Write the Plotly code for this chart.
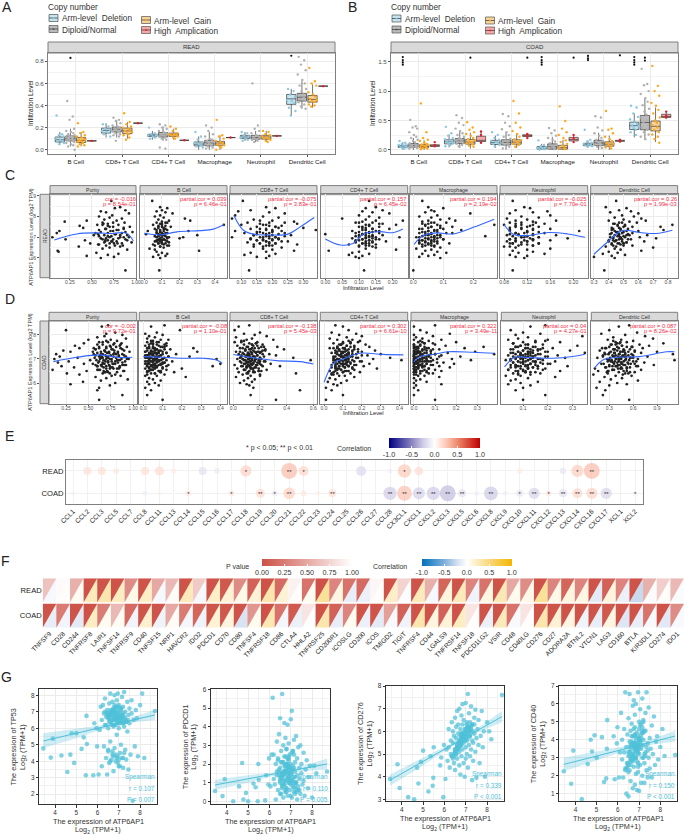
import plotly.graph_objects as go
from plotly.colors import sample_colorscale

W, H = 685, 836
FONT = "Liberation Sans"

# ---------- panel A / B ----------
CELLS = ["B Cell", "CD8+ T Cell", "CD4+ T Cell", "Macrophage", "Neutrophil", "Dendritic Cell"]
GROUPS = ["Arm-level  Deletion", "Diploid/Normal", "Arm-level  Gain", "High  Amplication"]
# [low, q1, median, q3, high] per group per cell
A_BOX = [
 [[.05,.07,.09,.115,.16],[.03,.08,.10,.125,.19],[.03,.065,.085,.11,.16],[.08,.08,.08,.08,.08]],
 [[.11,.15,.175,.195,.24],[.11,.16,.185,.205,.27],[.10,.145,.17,.195,.25],[.24,.24,.24,.24,.24]],
 [[.09,.12,.13,.14,.17],[.08,.115,.135,.155,.21],[.09,.12,.135,.15,.19],[.085,.085,.085,.085,.085]],
 [[.0,.035,.05,.07,.12],[.0,.035,.06,.085,.16],[.0,.04,.06,.075,.13],[.11,.11,.11,.11,.11]],
 [[.08,.10,.115,.13,.16],[.07,.095,.11,.13,.17],[.07,.095,.115,.13,.17],[.125,.125,.125,.125,.125]],
 [[.31,.41,.46,.50,.55],[.37,.44,.475,.51,.62],[.38,.43,.455,.49,.59],[.575,.575,.575,.575,.575]],
]
B_BOX = [
 [[.0,.04,.055,.075,.13],[.0,.04,.07,.105,.2],[.0,.035,.055,.085,.16],[.05,.055,.07,.085,.09]],
 [[.04,.10,.135,.17,.26],[.03,.105,.15,.19,.31],[.02,.095,.13,.175,.29],[.12,.14,.16,.23,.31]],
 [[.03,.09,.125,.16,.24],[.0,.08,.125,.17,.3],[.03,.095,.13,.17,.28],[.21,.225,.24,.255,.27]],
 [[.0,.01,.025,.055,.1],[.0,.01,.05,.10,.22],[.0,.01,.035,.075,.17],[.12,.15,.175,.21,.24]],
 [[.04,.07,.09,.11,.16],[.0,.07,.115,.16,.29],[.0,.06,.095,.135,.24],[.14,.145,.15,.16,.17]],
 [[.21,.345,.41,.47,.62],[.17,.34,.465,.585,.88],[.13,.32,.40,.49,.72],[.53,.55,.565,.605,.65]],
]
A_PTS = [
 [[.31,.14,.13,.12,.1,.09,.08,.07,.06,.05],[.44,.3,.27,.19,.17,.16,.15,.14,.13,.12,.12,.11,.1,.1,.09,.09,.08,.08,.07,.06,.05,.04,.03,.0],[.24,.16,.15,.13,.12,.11,.1,.09,.09,.08,.07,.07,.06,.05,.04,.03],[.08]],
 [[.23,.21,.19,.18,.17,.16,.15,.14,.12],[.29,.27,.26,.24,.22,.21,.2,.19,.19,.18,.17,.17,.16,.15,.14,.13,.12,.08],[.33,.25,.23,.21,.2,.19,.18,.17,.16,.15,.14,.13,.11,.09],[.24]],
 [[.2,.15,.14,.13,.13,.12,.11,.1],[.23,.22,.2,.19,.17,.16,.15,.14,.14,.13,.13,.12,.11,.1,.09,.02,.01],[.21,.19,.17,.15,.14,.14,.13,.13,.12,.11,.1],[.085]],
 [[.16,.12,.09,.07,.06,.05,.04,.03,.02],[.22,.2,.17,.14,.12,.1,.09,.08,.07,.06,.05,.05,.04,.03,.02,.01],[.27,.13,.12,.1,.08,.07,.06,.05,.04,.03,.02,.0],[.11]],
 [[.16,.15,.13,.12,.11,.1,.09,.08],[.6,.22,.19,.17,.15,.13,.12,.11,.11,.1,.09,.09,.08,.07],[.17,.16,.14,.13,.12,.11,.1,.1,.09,.08,.07],[.125]],
 [[.55,.53,.5,.48,.45,.44,.42,.38,.35,.31],[.84,.81,.77,.72,.68,.63,.6,.58,.55,.53,.5,.49,.47,.46,.44,.43,.41,.39,.37],[.74,.62,.6,.58,.52,.5,.48,.46,.45,.44,.43,.41,.4,.39],[.575]],
]
B_PTS = [
 [[.15,.12,.1,.09,.08,.07,.06,.05,.04,.03,.02],[.51,.4,.38,.36,.3,.25,.22,.2,.17,.15,.13,.11,.09,.08,.07,.06,.05,.04,.03,.02],[.79,.3,.2,.17,.15,.12,.1,.09,.08,.07,.06,.05,.04,.03,.02,.01],[.13,.08,.06]],
 [[.39,.28,.24,.2,.18,.16,.14,.13,.12,.1,.08,.06],[.59,.54,.46,.42,.36,.32,.28,.25,.22,.2,.18,.16,.15,.13,.12,.1,.08,.06],[.47,.38,.34,.3,.27,.24,.2,.18,.16,.14,.13,.11,.09,.07,.05],[.31,.25,.12]],
 [[.3,.25,.2,.17,.15,.13,.12,.1,.08,.06],[.61,.57,.46,.4,.35,.3,.25,.22,.19,.16,.14,.12,.1,.08,.05,.02],[.83,.62,.46,.38,.32,.27,.22,.18,.16,.14,.12,.1,.08,.05],[.27,.24,.2]],
 [[.16,.08,.06,.04,.03,.02,.01,.005],[.37,.33,.28,.24,.2,.17,.14,.11,.09,.07,.05,.03,.01],[.74,.49,.36,.3,.25,.2,.16,.13,.1,.07,.05,.03,.01],[.25,.2,.13]],
 [[.34,.17,.14,.12,.1,.09,.08,.07,.06,.05],[.57,.55,.38,.33,.28,.24,.2,.17,.15,.13,.11,.09,.07,.05,.03],[.66,.36,.34,.28,.22,.18,.15,.12,.1,.08,.06,.04,.02],[.17,.15,.14]],
 [[.75,.72,.62,.56,.52,.48,.44,.42,.4,.37,.34,.3,.25],[1.38,1.12,1.1,1.0,.95,.88,.82,.76,.7,.65,.6,.55,.5,.46,.42,.38,.34,.3,.26,.22,.18],[1.43,1.09,1.0,.92,.8,.75,.68,.62,.55,.5,.46,.42,.38,.34,.3,.26,.22,.18,.12],[.65,.58,.55]],
]
JIT = [-.07,.05,-.02,.08,-.09,.01,.06,-.05,.09,-.01,.03,-.08,.04,-.03,.07]
# black significance marks: (cell, group, y)
A_MARKS = [(0,1,.83),(5,0,.85)]
B_MARKS = [(0,0,1.58),(0,0,1.53),(0,0,1.49),(0,0,1.45),(1,2,1.57),(2,3,1.57),(3,0,1.58),(3,0,1.53),(3,0,1.49),(3,0,1.45),
           (3,3,1.57),(4,0,1.6),(4,0,1.56),(4,0,1.53),(4,3,1.61),(5,0,1.58),(5,0,1.53),(5,0,1.49),(5,0,1.45),(5,1,1.57),(5,1,1.52)]

# ---------- panel C ----------
C_TITLES = ["Purity", "B Cell", "CD8+ T Cell", "CD4+ T Cell", "Macrophage", "Neutrophil", "Dendritic Cell"]
C_COR = ["cor = -0.016","partial.cor = 0.039","partial.cor = -0.075","partial.cor = 0.157","partial.cor = 0.194","partial.cor = -0.025","partial.cor = 0.26"]
C_P = ["p = 8.54e-01","p = 6.46e-01","p = 3.83e-01","p = 6.45e-02","p = 2.19e-02","p = 7.70e-01","p = 1.99e-03"]
C_Y = [8.75,8.45,8.4,8.3,8.25,8.2,8.15,8.05,8.0,7.95,7.9,7.85,7.8,7.8,7.75,7.7,7.7,7.65,7.6,7.6,7.55,7.5,7.5,7.45,7.4,7.4,7.35,7.3,7.3,7.25,7.2,7.2,7.15,7.1,7.1,7.05,7.0,7.0,6.95,6.9,6.9,6.85,6.8,6.8,6.75,6.7,6.7,6.65,6.6,6.55,6.5,6.45,6.4,6.35,6.3,6.25,6.2,6.15,6.1,6.05,6.0,5.4]
C_X = [
 [.72,.82,.76,.88,.60,.66,.92,.73,.58,.70,.84,.64,.44,.78,.19,.62,.87,.68,.56,.80,.36,.74,.93,.40,.65,.86,.58,.13,.71,.96,.10,.54,.77,.90,.52,.68,.05,.82,.60,.88,.20,.42,.73,.65,.95,.48,.79,.57,.85,.35,.70,.62,.90,.11,.12,.55,.80,.68,.44,.75,.60,.88],
 [.045,.09,.13,.10,.07,.12,.16,.09,.06,.11,.23,.08,.14,.26,.10,.07,.13,.09,.05,.45,.12,.10,.15,.08,.11,.06,.13,.02,.25,.09,.12,.07,.01,.30,.10,.08,.22,.14,.20,.09,.11,.07,.13,.06,.10,.12,.08,.05,.14,.09,.11,.03,.06,.31,.07,.10,.13,.08,.12,.05,.09,.085],
 [.105,.18,.21,.13,.09,.19,.24,.08,.17,.22,.07,.14,.20,.16,.27,.12,.19,.28,.10,.17,.23,.15,.21,.30,.13,.18,.34,.08,.20,.16,.11,.24,.18,.14,.26,.19,.07,.17,.22,.13,.20,.15,.25,.18,.12,.21,.16,.28,.19,.14,.23,.17,.20,.27,.18,.13,.21,.11,.19,.15,.18,.125],
 [.13,.15,.12,.17,.11,.14,.19,.10,.13,.16,.05,.12,.15,.23,.11,.14,.09,.17,.12,.21,.13,.10,.16,.12,.14,.19,.11,.08,.16,.13,.09,.12,.0,.17,.10,.14,.22,.12,.08,.15,.11,.13,.18,.09,.14,.11,.12,.07,.13,.10,.15,.12,.21,.01,.10,.08,.13,.07,.11,.09,.10,.115],
 [.03,.05,.10,.06,.07,.04,.19,.08,.02,.06,.12,.09,.05,.14,.03,.07,.11,.05,.08,.27,.04,.13,.06,.09,.02,.10,.16,.05,.07,.03,.11,.13,.06,.08,.04,.24,.01,.09,.05,.07,.10,.03,.06,.08,.04,.02,.12,.05,.07,.03,.09,.01,.06,.04,.08,.11,.03,.07,.05,.02,.09,.0],
 [.095,.115,.125,.10,.155,.13,.09,.16,.11,.14,.085,.12,.10,.17,.13,.09,.11,.15,.08,.13,.10,.12,.14,.09,.16,.11,.13,.21,.09,.12,.15,.10,.13,.17,.085,.12,.14,.11,.19,.09,.13,.16,.10,.12,.235,.09,.14,.11,.13,.08,.10,.16,.12,.095,.13,.105,.15,.09,.12,.10,.115,.095],
 [.45,.38,.52,.47,.55,.41,.60,.49,.57,.44,.62,.50,.40,.65,.54,.47,.59,.43,.83,.51,.46,.75,.56,.42,.53,.48,.77,.44,.60,.50,.46,.56,.41,.66,.52,.47,.61,.43,.72,.49,.55,.45,.64,.40,.52,.47,.50,.42,.56,.38,.70,.44,.48,.62,.40,.46,.36,.51,.42,.30,.44,.37],
]
C_Y2 = [7.6,7.5,7.4,7.35,7.3,7.25,7.2,7.2,7.15,7.1,7.1,7.05,7.05,7.0,7.0,6.95,6.95,6.9,6.9,6.85,6.85,6.8,6.8,6.75,6.7,6.7,6.65,6.6,6.6,6.55,7.45,7.55,7.65,7.7,7.35,7.25,7.15,7.0,6.85,6.7]
C_X2 = [
 [.62,.70,.66,.78,.74,.60,.84,.68,.76,.64,.82,.72,.58,.86,.70,.66,.80,.62,.74,.90,.68,.72,.78,.64,.84,.70,.58,.76,.66,.82,.86,.68,.63,.74,.80,.88,.57,.92,.65,.75],
 [.10,.08,.12,.09,.11,.07,.10,.13,.08,.11,.09,.06,.12,.10,.07,.13,.09,.11,.08,.10,.12,.07,.09,.14,.10,.08,.11,.06,.13,.09,.11,.08,.10,.12,.07,.09,.11,.13,.08,.10],
 [.18,.21,.16,.20,.23,.15,.19,.17,.22,.14,.20,.18,.24,.16,.21,.19,.13,.22,.17,.20,.15,.18,.23,.19,.16,.21,.14,.18,.20,.17,.22,.19,.16,.24,.18,.20,.15,.21,.17,.19],
 [.13,.11,.14,.12,.15,.10,.13,.16,.11,.14,.12,.09,.13,.15,.10,.12,.14,.11,.16,.13,.10,.12,.14,.09,.11,.13,.15,.10,.12,.14,.11,.13,.16,.10,.12,.14,.11,.13,.09,.12],
 [.04,.06,.03,.07,.05,.08,.02,.06,.04,.09,.05,.03,.07,.06,.02,.08,.04,.05,.10,.03,.06,.07,.04,.02,.05,.08,.03,.06,.04,.07,.05,.09,.03,.06,.08,.04,.05,.07,.02,.06],
 [.11,.10,.13,.09,.12,.14,.10,.115,.09,.13,.105,.12,.095,.14,.11,.10,.125,.09,.13,.115,.10,.12,.085,.11,.14,.095,.12,.105,.13,.09,.11,.125,.10,.135,.09,.12,.105,.115,.13,.095],
 [.46,.50,.43,.48,.52,.45,.42,.49,.47,.54,.44,.50,.46,.41,.51,.48,.43,.47,.53,.45,.40,.49,.44,.52,.46,.42,.48,.50,.43,.45,.47,.51,.44,.49,.42,.46,.53,.48,.43,.50],
]
C_LINE_X = [[.072,.326,.55,.74,.856,.91,.97],[0,.09,.185,.317,.39,.45],[.076,.106,.139,.19,.25,.29,.335],[0,.044,.082,.113,.162,.2,.23],[.003,.033,.077,.133,.2,.27],[.08,.096,.12,.157,.19,.22],[.3,.39,.49,.61,.72,.83]]
C_LINE_Y = [[6.87,7.16,7.21,7.18,7.23,7.15,6.82],[7.19,7.11,7.26,7.32,7.39,7.6],[8.05,7.35,7.15,7.11,7.15,7.5,7.95],[6.92,6.63,6.7,7.16,7.27,7.22,7.4],[6.66,7.08,7.21,7.16,7.48,7.87],[7.6,7.15,7.08,7.23,7.16,7.0],[6.18,6.76,7.32,7.23,7.18,7.34]]
C_TICKS = [[.25,.5,.75,1],[0,.1,.2,.3,.4],[.1,.15,.2,.25,.3],[0,.05,.1,.15,.2],[0,.1,.2],[.08,.12,.16,.2],[.3,.4,.5,.6,.7,.8]]
C_TICKTEXT = [["0.25","0.50","0.75","1.00"],["0.0","0.1","0.2","0.3","0.4"],["0.10","0.15","0.20","0.25","0.30"],["0.00","0.05","0.10","0.15","0.20"],["0.0","0.1","0.2"],["0.08","0.12","0.16","0.20"],["0.3","0.4","0.5","0.6","0.7","0.8"]]

# ---------- panel D ----------
D_COR = ["cor = -0.002","partial.cor = -0.08","partial.cor = -0.138","partial.cor = 0.302","partial.cor = 0.322","partial.cor = 0.04","partial.cor = 0.087"]
D_P = ["p = 9.72e-01","p = 1.10e-01","p = 5.45e-03","p = 6.61e-10","p = 3.49e-11","p = 4.27e-01","p = 8.26e-02"]
D_Y = [8.4,8.35,8.2,8.1,8.05,8.0,7.95,7.9,7.85,7.8,7.8,7.75,7.7,7.7,7.65,7.6,7.6,7.55,7.55,7.5,7.5,7.45,7.45,7.4,7.4,7.35,7.35,7.3,7.3,7.3,7.25,7.25,7.2,7.2,7.2,7.15,7.15,7.1,7.1,7.1,7.05,7.05,7.0,7.0,7.0,6.95,6.95,6.9,6.9,6.9,6.85,6.85,6.8,6.8,6.8,6.75,6.75,6.7,6.7,6.7,6.65,6.65,6.6,6.6,6.55,6.55,6.5,6.5,6.45,6.45,6.4,6.4,6.35,6.3,6.3,6.25,6.2,6.15,6.1,6.05,6.0,5.95,5.9,5.8,5.7,5.5,5.3]
D_X = [
 [.72,.65,.25,.80,.70,.88,.68,.60,.92,.75,.50,.82,.66,.72,.45,.78,.60,.85,.35,.70,.93,.62,.40,.76,.88,.22,.68,.55,.96,.30,.73,.83,.14,.64,.78,.58,.90,.18,.70,.84,.38,.66,.12,.76,.95,.52,.82,.28,.62,.72,.88,.16,.68,.45,.80,.58,.92,.20,.74,.65,.85,.34,.70,.78,.10,.60,.90,.48,.72,.82,.26,.66,.40,.76,.86,.58,.70,.94,.64,.44,.80,.30,.74,.62,.60,.88,.62],
 [.11,.04,.19,.07,.01,.10,.03,.06,.02,.09,.13,.05,.08,.02,.04,.11,.07,.01,.12,.05,.09,.26,.03,.07,.14,.02,.06,.10,.04,.28,.08,.12,.03,.17,.05,.01,.09,.07,.13,.24,.04,.02,.10,.06,.38,.03,.08,.15,.05,.01,.11,.07,.40,.03,.09,.06,.13,.02,.36,.04,.10,.07,.20,.01,.05,.12,.03,.08,.16,.02,.06,.04,.11,.01,.07,.22,.03,.05,.09,.02,.06,.03,.08,.01,.04,.02,.10],
 [.12,.04,.01,.20,.08,.16,.25,.02,.14,.10,.30,.06,.18,.01,.12,.22,.08,.15,.03,.33,.11,.19,.05,.13,.38,.24,.09,.16,.02,.21,.07,.14,.27,.11,.04,.18,.32,.10,.15,.06,.45,.20,.12,.03,.17,.09,.58,.23,.13,.05,.19,.11,.28,.08,.15,.01,.21,.12,.35,.06,.17,.10,.14,.03,.25,.08,.19,.12,.04,.16,.10,.47,.07,.13,.20,.02,.11,.16,.08,.14,.05,.10,.12,.15,.50,.13,.32],
 [.06,.1,.13,.04,.17,.08,.2,.12,.03,.15,.07,.19,.1,.14,.05,.22,.09,.12,.16,.07,.24,.11,.03,.18,.13,.08,.27,.15,.1,.2,.06,.13,.3,.17,.09,.12,.23,.05,.15,.1,.35,.18,.07,.13,.26,.11,.41,.16,.08,.2,.12,.06,.14,.24,.1,.17,.04,.13,.21,.08,.15,.11,.28,.06,.16,.09,.13,.03,.19,.1,.07,.14,.05,.11,.08,.16,.03,.06,.12,.02,.09,.05,.07,.01,.04,.1,.01],
 [.1,.0,.03,.06,.17,.0,.09,.01,.04,.13,.0,.07,.02,.2,.05,.0,.1,.15,.03,.33,.0,.06,.24,.01,.12,.04,.08,.0,.29,.02,.16,.06,.0,.1,.38,.03,.13,.0,.07,.22,.01,.05,.18,.0,.11,.02,.27,.08,.0,.04,.14,.01,.06,.19,.0,.09,.03,.12,.0,.05,.02,.17,.07,.0,.1,.01,.04,.13,.0,.06,.03,.09,.0,.02,.05,.12,.0,.03,.01,.06,.0,.13,.01,.0,.02,.0,.1],
 [.19,.13,.05,.1,.17,.07,.34,.12,.08,.2,.04,.15,.1,.25,.06,.18,.12,.32,.09,.14,.07,.22,.11,.05,.16,.29,.1,.13,.08,.19,.35,.06,.12,.16,.09,.24,.04,.14,.11,.2,.07,.27,.13,.09,.17,.03,.12,.08,.23,.15,.1,.06,.18,.13,.21,.05,.11,.16,.09,.28,.14,.07,.12,.19,.04,.1,.25,.08,.15,.11,.06,.17,.13,.03,.09,.23,.12,.07,.05,.16,.09,.04,.13,.1,.07,.19,.1],
 [.55,.42,.3,.65,.2,.5,.75,.35,.85,.45,.28,.6,.38,.52,.98,.68,.33,.46,.8,.4,.58,.25,.72,.48,.36,.62,.18,.44,.9,.54,.3,.7,.42,1.1,.5,.22,.6,.35,.78,.46,.15,.56,.38,.66,.28,.5,1.12,.42,.32,.6,.74,.45,.2,.54,.36,.86,.48,.3,.64,.4,.25,.56,.12,.44,.7,.34,.52,.16,.62,.42,.28,.5,.1,.38,.58,.24,.46,.32,.66,.18,.4,.52,.3,.14,.25,.22,.55],
]
D_Y2 = [7.6,7.55,7.5,7.5,7.45,7.45,7.4,7.4,7.35,7.35,7.3,7.3,7.3,7.25,7.25,7.25,7.2,7.2,7.2,7.15,7.15,7.15,7.1,7.1,7.1,7.1,7.05,7.05,7.05,7.0,7.0,7.0,7.0,6.95,6.95,6.95,6.9,6.9,6.9,6.9,6.85,6.85,6.85,6.8,6.8,6.8,6.75,6.75,6.75,6.7,6.7,6.7,6.65,6.65,6.6,6.6,6.55,6.5,6.5,6.45,7.65,7.7,7.6,7.5,7.4,7.3,7.2,7.1,7.0,6.9,6.8,6.7,6.6,6.5,6.4,7.75,7.65,7.45,7.35,7.15,7.05,6.95,6.85,6.75,6.65,6.55,6.45,6.35,7.25,7.05]
D_X2 = [
 [.66,.74,.81,.62,.70,.86,.58,.77,.68,.90,.64,.73,.83,.60,.71,.79,.66,.88,.56,.75,.69,.84,.62,.72,.92,.78,.65,.57,.81,.70,.87,.63,.74,.67,.85,.59,.76,.80,.69,.91,.61,.72,.83,.66,.78,.55,.88,.64,.73,.70,.85,.60,.77,.67,.82,.74,.63,.89,.71,.68,.79,.62,.86,.75,.58,.69,.81,.65,.93,.72,.77,.60,.84,.67,.74,.70,.87,.56,.79,.63,.72,.83,.66,.90,.75,.61,.69,.80,.73,.64],
 [.05,.08,.03,.1,.06,.02,.07,.11,.04,.09,.05,.01,.08,.12,.03,.06,.1,.04,.07,.02,.09,.05,.13,.03,.08,.06,.11,.01,.04,.07,.1,.05,.03,.09,.06,.12,.02,.08,.04,.07,.11,.05,.03,.1,.06,.01,.09,.04,.08,.02,.07,.12,.05,.03,.1,.06,.04,.08,.02,.09,.05,.07,.03,.11,.06,.01,.04,.08,.1,.05,.02,.07,.03,.09,.06,.04,.12,.05,.08,.02,.07,.03,.1,.05,.06,.04,.09,.02,.07,.03],
 [.14,.18,.1,.21,.07,.16,.12,.24,.09,.15,.19,.05,.13,.2,.11,.17,.08,.22,.14,.1,.18,.06,.15,.12,.23,.09,.16,.2,.13,.07,.17,.11,.21,.14,.08,.19,.12,.16,.1,.24,.15,.06,.18,.13,.09,.2,.11,.17,.14,.07,.22,.12,.16,.1,.19,.13,.08,.15,.21,.11,.17,.06,.14,.23,.09,.18,.12,.16,.07,.2,.13,.1,.15,.19,.11,.08,.17,.14,.22,.12,.05,.16,.1,.18,.13,.09,.15,.2,.11,.14],
 [.09,.12,.07,.14,.05,.1,.16,.08,.12,.06,.11,.18,.09,.13,.04,.1,.15,.07,.12,.08,.2,.11,.06,.14,.09,.13,.05,.1,.17,.08,.12,.07,.11,.15,.06,.09,.13,.1,.19,.08,.12,.05,.14,.07,.11,.09,.16,.06,.12,.1,.08,.13,.04,.11,.15,.07,.09,.12,.06,.1,.14,.18,.08,.16,.11,.07,.13,.09,.05,.12,.1,.06,.08,.11,.04,.13,.1,.07,.15,.09,.12,.05,.08,.1,.06,.07,.05,.04,.13,.11],
 [.03,.0,.05,.01,.07,.02,.04,.09,.0,.06,.01,.03,.08,.0,.05,.02,.1,.04,.01,.07,.0,.03,.06,.02,.12,.0,.05,.01,.08,.03,.0,.04,.06,.02,.09,.0,.01,.05,.03,.07,.0,.02,.11,.04,.01,.06,.0,.03,.08,.02,.05,.0,.01,.04,.07,.02,.0,.03,.06,.01,.09,.04,.0,.02,.05,.01,.08,.0,.03,.06,.02,.04,.0,.01,.07,.03,.05,.0,.02,.04,.01,.06,.0,.03,.02,.05,.0,.01,.03,.04],
 [.12,.09,.15,.07,.11,.18,.06,.13,.1,.16,.08,.12,.2,.09,.14,.05,.11,.17,.07,.13,.1,.15,.06,.12,.19,.08,.14,.11,.09,.16,.07,.13,.1,.18,.05,.12,.15,.08,.11,.14,.06,.17,.09,.13,.1,.2,.07,.12,.15,.08,.11,.16,.05,.14,.09,.12,.18,.07,.1,.13,.06,.15,.11,.08,.17,.12,.09,.14,.05,.1,.13,.07,.16,.11,.08,.19,.06,.12,.14,.09,.1,.05,.15,.07,.12,.04,.11,.08,.13,.1],
 [.38,.46,.3,.52,.42,.26,.56,.35,.48,.4,.62,.32,.44,.24,.5,.37,.58,.43,.29,.47,.34,.54,.41,.22,.49,.36,.6,.44,.31,.51,.39,.27,.45,.55,.33,.42,.64,.37,.48,.28,.53,.4,.35,.46,.23,.57,.43,.3,.5,.38,.66,.34,.45,.26,.52,.41,.36,.48,.29,.56,.4,.44,.32,.59,.37,.47,.25,.51,.42,.33,.62,.39,.46,.28,.54,.35,.43,.21,.49,.38,.57,.3,.45,.41,.52,.34,.27,.47,.36,.44],
]
D_LINE_X = [[.109,.37,.63,.85,.99],[0,.1,.22,.31,.38,.41],[0,.175,.325,.5,.6],[0,.05,.1,.19,.31,.42],[0,.03,.1,.16,.28,.38],[.025,.067,.12,.217,.3,.35],[.12,.22,.39,.68,1.02,1.12]]
D_LINE_Y = [[6.89,7.07,7.17,7.06,7.07],[7.1,7.07,7.03,7.03,6.96,6.82],[7.19,7.03,6.93,6.89,6.79],[6.03,6.82,7.0,7.24,7.19,7.17],[6.89,7.1,7.2,7.3,7.28,7.24],[6.67,7.07,7.06,7.03,7.1,7.2],[6.65,6.96,7.07,7.1,7.3,7.3]]
D_TICKS = [[.25,.5,.75,1],[0,.1,.2,.3,.4],[0,.2,.4,.6],[0,.1,.2,.3,.4],[0,.1,.2,.3],[.1,.2,.3],[.3,.6,.9]]
D_TICKTEXT = [["0.25","0.50","0.75","1.00"],["0.0","0.1","0.2","0.3","0.4"],["0.0","0.2","0.4","0.6"],["0.0","0.1","0.2","0.3","0.4"],["0.0","0.1","0.2","0.3"],["0.1","0.2","0.3"],["0.3","0.6","0.9"]]

# ---------- panel E ----------
CHEMOKINES = ["CCL1","CCL2","CCL3","CCL5","CCL7","CCL8","CCL11","CCL13","CCL14","CCL15","CCL16","CCL17","CCL18","CCL19","CCL20","CCL21","CCL22","CCL23","CCL24","CCL25","CCL26","CCL27","CCL28","CX3CL1","CXCL1","CXCL2","CXCL3","CXCL5","CXCL6","CXCL8","CXCL9","CXCL10","CXCL11","CXCL12","CXCL13","CXCL14","CXCL16","CXCL17","XCL1","XCL2"]
E_READ = [-.05,.15,.15,.11,.05,.15,.17,.1,-.06,-.15,-.11,.02,.21,.02,.02,.3,.19,.03,.02,.05,-.19,0,-.09,.25,.16,.03,.04,.04,0,0,.04,.1,.03,0,-.12,.23,.3,0,0,0]
E_COAD = [-.08,0,0,0,0,-.09,.08,.02,.11,0,0,.11,.03,.17,-.11,.22,.11,.09,.15,.02,0,0,-.25,.28,-.23,-.25,-.3,-.15,-.09,-.26,-.09,-.13,-.21,.11,-.15,.19,.21,-.21,0,-.09]
E_READ_SIG = {12:"*",15:"**",16:"*",23:"*",35:"*",36:"**"}
E_COAD_SIG = {8:"*",11:"*",13:"**",14:"*",15:"**",18:"**",22:"**",23:"**",24:"**",25:"**",26:"**",27:"**",29:"**",31:"*",32:"**",33:"*",34:"**",35:"**",36:"**",37:"**",39:"*"}

# ---------- panel F ----------
CHECKPOINTS = ["TNFSF9","CD28","CD244","TNFRSF8","LAIR1","TNFSF14","TNFRSF9","CD40","TNFSF15","NRP1","HAVCR2","IDO2","PDCD1","CD70","CD80","TNFSF4","TNFRSF18","CD86","CTLA4","HHLA2","TNFRSF25","CD200R1","ICOSLG","CD200","ICOS","TMIGD2","TIGIT","TNFRSF4","CD44","LGALS9","TNFRSF14","TNFSF18","PDCD1LG2","VSIR","CD48","CD40LG","CD276","CD27","ADORA2A","BTNL2","VTCN1","LAG3","CD160","BTLA","KIR3DL1","CD274","IDO1"]
F_READ_P = [.65,.97,.55,.02,.02,.02,.35,.02,.5,.6,.02,.7,.02,.05,.35,.1,.01,.15,.92,.2,.01,.3,.2,.15,.95,.02,.75,.02,.55,.12,.02,.3,.2,.02,.5,.35,.02,.3,.12,.3,.02,.1,.3,.02,.55,.72,.6]
F_READ_C = [-.05,.02,.05,.25,.3,.22,.08,.2,-.05,.03,.25,-.05,.2,.15,.08,.15,.3,.15,.02,.05,.38,.1,-.12,-.1,.02,.2,-.02,.25,-.05,.12,.25,-.08,.1,.28,.06,.08,.38,.08,.12,.1,-.15,.12,-.1,-.25,-.03,.02,-.03]
F_COAD_P = [.02,.25,.02,.01,.25,.6,.15,.02,.03,.5,.25,.12,.02,.04,.02,.4,.01,.2,.06,.85,.01,.1,.3,.02,.02,.45,.1,.02,.02,.1,.02,.85,.02,.02,.2,.85,.02,.02,.02,.02,.02,.05,.02,.02,.2,.02,.35]
F_COAD_C = [-.12,-.07,-.15,.22,.05,.04,-.07,.18,-.08,.03,-.06,-.08,.15,.12,-.2,.05,.28,-.06,-.1,-.01,.3,-.12,.05,-.1,-.15,-.04,-.08,.3,.12,.14,.22,.01,-.1,.25,-.04,.01,.3,.15,.1,-.08,-.12,.1,-.18,-.12,-.04,-.16,-.04]

# ---------- panel G ----------
G_GENES = ["TP53", "PDCD1", "CD276", "CD40"]
G_STATS = [("r = 0.107","P = 0.007"),("r = 0.110","P = 0.005"),("r = 0.339","P < 0.001"),("r = 0.150","P < 0.001")]
GX = [8.7,8.2,8.1,3.45,3.8,3.9,4.3,4.58,4.72,4.78,4.9,5.0,5.25,5.35,5.45,5.48,5.5,5.8,5.85,5.95,5.98,6.05,6.1,6.15,6.2,6.2,6.25,6.3,6.3,6.35,6.35,6.4,6.4,6.45,6.45,6.5,6.5,6.5,6.55,6.55,6.55,6.6,6.6,6.6,6.65,6.65,6.65,6.7,6.7,6.7,6.7,6.75,6.75,6.75,6.8,6.8,6.8,6.8,6.85,6.85,6.85,6.9,6.9,6.9,6.9,6.95,6.95,6.95,7.0,7.0,7.0,7.0,7.05,7.05,7.05,7.1,7.1,7.1,7.15,7.15,7.15,7.2,7.2,7.2,7.25,7.25,7.3,7.3,7.3,7.35,7.35,7.4,7.4,7.45,7.45,7.5,7.5,7.55,7.6,7.6,7.65,7.7,7.75,7.8,7.85,7.9,8.0]
G_Y = [
 [7.05,4.2,8.1,4.78,4.22,5.37,4.35,3.35,4.4,5.7,3.9,5.7,4.75,5.45,3.15,6.75,5.05,3.15,6.3,6.0,4.9,3.2,5.9,7.3,3.7,6.5,7.4,4.9,6.9,6.2,7.8,4.2,6.7,3.2,7.1,6.0,6.6,4.6,7.5,6.4,3.9,6.8,8.1,5.2,6.3,7.0,4.1,6.5,7.6,6.9,4.4,6.1,7.2,3.4,6.6,8.0,6.7,4.8,7.3,6.2,4.0,6.9,7.7,5.6,6.4,7.0,4.3,8.1,6.6,6.0,3.7,7.4,6.8,4.5,6.3,7.1,5.0,6.7,7.9,4.2,6.5,6.9,3.6,7.3,6.1,8.2,4.7,6.6,7.0,6.4,4.1,7.6,5.8,6.8,3.5,7.2,6.3,4.4,6.9,7.7,1.6,6.5,4.9,7.1,6.6,4.3,7.4],
 [1.6,1.5,1.9,.55,.28,1.2,.0,.8,2.05,.1,.45,.0,.95,.75,.0,2.0,1.15,.05,1.4,.9,2.3,.8,2.5,5.55,2.5,1.2,.9,2.0,.1,1.6,3.2,.6,2.3,1.4,3.6,1.0,4.45,1.8,.4,2.7,1.3,5.75,2.1,.8,1.6,3.0,.2,1.9,1.1,4.2,2.4,.5,1.5,3.4,1.2,2.0,.7,2.8,1.7,4.1,.3,1.3,2.2,1.0,3.1,1.8,.6,2.5,1.4,4.4,.9,2.0,1.5,4.85,.2,1.1,2.7,1.7,.5,3.3,1.3,2.1,.8,1.6,3.5,1.0,.1,2.3,1.4,2.9,.6,1.8,1.2,3.0,.4,2.0,1.5,.9,2.6,1.1,.3,1.7,2.2,.7,1.3,1.9,.2],
 [7.6,5.65,6.0,3.9,4.55,3.5,3.1,3.0,4.4,3.7,4.65,5.15,3.35,4.9,3.6,3.95,5.3,4.5,4.85,3.1,5.4,3.9,5.2,4.7,5.3,6.1,4.4,5.6,5.0,6.4,4.9,5.5,6.0,4.6,5.8,5.2,6.6,4.3,5.7,6.2,5.0,5.4,6.9,4.8,5.9,5.3,6.3,4.5,5.6,7.0,5.1,5.8,4.1,6.1,5.4,6.7,4.9,5.7,6.3,5.2,7.2,4.6,5.9,5.5,6.5,4.0,5.8,6.1,5.3,7.25,4.8,5.6,6.4,5.0,5.9,7.65,4.4,5.7,6.2,5.4,6.8,4.9,5.8,6.0,5.2,7.1,3.85,5.6,6.3,5.5,4.7,6.6,5.9,5.1,6.95,3.95,5.7,6.1,5.4,6.5,4.6,5.8,6.9,5.3,6.0,4.0,6.4],
 [3.15,3.1,4.6,2.25,1.55,3.4,.7,2.65,4.0,3.35,4.25,3.0,4.15,1.65,1.85,3.5,5.1,4.2,1.8,3.8,4.7,1.9,3.3,5.5,2.9,4.0,1.9,3.3,4.6,2.4,6.65,3.6,1.0,4.3,2.7,5.2,3.1,.85,3.9,6.55,2.3,4.5,3.4,1.7,4.9,2.9,3.8,5.9,1.3,3.2,4.2,2.5,6.2,3.6,1.5,4.7,3.0,5.4,2.1,4.1,6.0,3.4,1.2,2.8,4.4,3.7,6.65,2.2,5.0,3.2,1.15,4.6,3.9,5.7,2.6,3.5,1.6,4.3,6.3,3.0,2.0,5.1,3.7,4.0,1.6,2.7,5.5,3.3,4.5,2.3,6.65,3.8,1.9,3.0,5.8,4.1,2.4,3.5,4.8,1.9,3.2,5.3,2.6,3.9,4.2,2.9,3.6],
]
GX2 = [6.9,6.7,6.8,6.6,7.0,6.75,6.85,6.65,6.95,7.1,6.5,6.8,7.05,6.7,6.9,6.55,7.15,6.85,6.6,7.0,6.75,7.2,6.45,6.95,6.8,7.1,6.65,6.9,7.25,6.7,6.4,7.0,6.85,6.6,7.15,6.75,7.3,6.95,6.5,6.8,7.05,6.7,7.2,6.9,6.35,6.6,7.0,6.85,7.1,6.55,6.75,7.35,6.95,6.65,7.25,6.8,6.45,7.05,6.9,6.7,7.15,6.6,7.4,6.85,6.5,7.0,6.8,7.2,6.75,6.95]
G_Y2 = [
 [6.7,6.5,6.9,7.1,6.3,6.8,6.6,7.0,6.4,7.2,6.7,6.2,6.9,6.5,7.3,6.6,6.8,7.0,6.4,6.7,7.1,6.3,6.9,6.6,7.4,6.5,6.8,4.2,6.7,7.0,6.2,6.5,4.4,6.9,6.6,7.2,6.4,3.9,6.8,7.1,6.7,4.6,6.3,6.9,7.0,6.6,4.1,6.5,7.2,6.8,4.3,6.4,6.7,7.0,4.5,6.6,6.9,3.7,7.1,6.2,6.8,4.0,6.5,6.7,4.7,7.3,6.6,4.2,6.9,6.4],
 [1.5,.9,2.0,1.2,1.7,.6,2.3,1.4,1.0,1.9,.4,1.6,2.6,1.1,1.3,2.1,.7,1.8,1.5,.3,2.4,1.0,1.7,1.2,2.8,.8,1.4,1.9,.5,1.6,2.2,1.1,1.3,.9,2.5,1.5,.6,1.8,1.2,2.0,1.0,1.6,.4,2.3,1.4,.7,1.7,1.1,2.7,1.3,1.9,.8,1.5,2.1,1.0,.5,1.6,1.2,2.4,.9,1.8,1.4,.6,2.0,1.1,1.5,.7,1.3,1.7,1.0],
 [5.7,5.4,5.9,5.2,6.1,5.6,5.8,5.3,6.0,6.2,5.1,5.7,6.3,5.5,5.9,5.0,6.0,5.6,5.3,5.8,5.4,6.4,4.9,5.7,5.9,6.1,5.2,5.6,6.2,5.5,4.8,5.8,5.7,5.3,6.0,5.4,6.3,5.9,5.1,5.6,6.1,5.5,5.8,5.7,4.9,5.3,5.9,5.6,6.2,5.2,5.4,6.0,5.8,5.5,6.1,5.7,5.0,5.6,5.9,5.3,6.0,5.4,6.3,5.8,5.2,5.7,5.5,6.1,5.6,5.9],
 [3.7,3.2,4.2,2.8,3.5,4.6,3.0,3.9,2.5,4.1,3.3,3.6,4.8,2.9,3.8,3.1,4.4,3.4,2.6,4.0,3.6,5.0,2.7,3.3,4.3,3.7,3.0,3.5,4.5,2.8,2.4,4.0,3.2,3.6,4.7,3.8,3.1,4.2,2.6,3.4,3.9,2.9,4.4,3.5,2.3,3.7,4.1,3.0,4.9,3.3,3.8,3.6,2.7,4.2,3.2,3.5,2.5,4.0,3.7,3.1,4.5,2.9,3.4,3.9,2.2,3.6,4.3,3.0,3.8,3.3],
]
G_LINE_X = [3.45, 8.7]
G_LINE_Y = [[5.23,6.81],[.875,2.0],[3.85,6.65],[2.63,4.21]]
CI_X = [3.45,5,6,6.8,7.6,8.7]
CI_LO = [[4.8,5.4,5.85,6.15,6.35,6.5],[.6,1.0,1.3,1.5,1.62,1.7],[3.6,4.5,5.12,5.58,5.97,6.4],[2.25,2.85,3.25,3.52,3.72,3.9]]
CI_HI = [[5.7,5.95,6.15,6.35,6.65,7.1],[1.15,1.4,1.52,1.68,1.9,2.3],[4.1,4.85,5.3,5.7,6.17,6.9],[3.0,3.35,3.55,3.76,4.04,4.5]]

# ---------- helpers ----------
fig = go.Figure()
layout_axes, shapes, notes = {}, [], []
_n = [0]
GRID = "#ebebeb"
BORDER = "#7f7f7f"

def fx(p): return p / W
def fy(p): return 1 - p / H

def axes(x0, x1, y0, y1, xr, yr, xo=None, yo=None):
    _n[0] += 1
    n = _n[0]
    xa = dict(domain=[fx(x0), fx(x1)], range=xr, anchor=f"y{n}", type="linear", zeroline=False, automargin=False,
              showgrid=True, gridcolor=GRID, gridwidth=.6, ticks="outside", ticklen=2, tickwidth=.5,
              tickcolor="#555", showline=True, mirror=True, linecolor=BORDER, linewidth=1,
              tickfont=dict(size=5.5, color="#4d4d4d", family=FONT))
    ya = dict(domain=[fy(y1), fy(y0)], range=yr, anchor=f"x{n}", type="linear", zeroline=False, automargin=False,
              showgrid=True, gridcolor=GRID, gridwidth=.6, ticks="outside", ticklen=2, tickwidth=.5,
              tickcolor="#555", showline=True, mirror=True, linecolor=BORDER, linewidth=1,
              tickfont=dict(size=5.5, color="#4d4d4d", family=FONT))
    xa.update(xo or {}); ya.update(yo or {})
    layout_axes["xaxis" + ("" if n == 1 else str(n))] = xa
    layout_axes["yaxis" + ("" if n == 1 else str(n))] = ya
    return ("x" if n == 1 else f"x{n}"), ("y" if n == 1 else f"y{n}")

def note(px, py, text, size=6, color="#333", anchor="center", angle=0, vanchor="middle"):
    notes.append(dict(x=fx(px), y=fy(py), xref="paper", yref="paper", text=text, showarrow=False, xanchor=anchor,
                      yanchor=vanchor, textangle=angle, font=dict(size=size, color=color, family=FONT),
                      borderpad=0, borderwidth=0))

def rect(x0, y0, x1, y1, fill, line=None, lw=1):
    shapes.append(dict(type="rect", xref="paper", yref="paper", x0=fx(x0), x1=fx(x1), y0=fy(y0), y1=fy(y1),
                       fillcolor=fill, line=dict(color=line or fill, width=lw), layer="below"))

def strip(x0, y0, x1, y1, text, size=5.5, angle=0):
    rect(x0, y0, x1, y1, "#d9d9d9", BORDER, 1)
    note((x0 + x1) / 2, (y0 + y1) / 2, text, size=size, color="#333", angle=angle)

def skip(**k):
    k.setdefault("hoverinfo", "skip"); k.setdefault("showlegend", False)
    return k

# ---------- A / B ----------
OFFS = [-.345, -.115, .115, .345]
FILLS = ["rgba(150,205,225,.55)", "rgba(150,150,150,.65)", "rgba(240,175,70,.55)", "rgba(240,110,110,.6)"]
DOTS = ["#8cc8e0", "#b0b0b0", "#ffa61a", "#e0202a"]

def box_panel(x0, x1, y0, y1, yr, yt, ytt, title, BOX, PTS, MARKS):
    xa, ya = axes(x0, x1, y0, y1, [.4, 6.6], yr,
                  dict(tickvals=[1,2,3,4,5,6], ticktext=CELLS, tickfont=dict(size=6.2, color="#222", family=FONT)),
                  dict(tickvals=yt, ticktext=ytt, tickfont=dict(size=6.2, color="#4d4d4d", family=FONT),
                       minor=dict(showgrid=True, gridcolor="#f3f3f3", gridwidth=.4,
                                  tickvals=[(a+b)/2 for a, b in zip(yt, yt[1:])], ticks="")))
    strip(x0, y0 - 11, x1, y0, title, size=6)
    for c in range(6):
        for g in range(4):
            pos = c + 1 + OFFS[g]
            ys = PTS[c][g]
            xs = [pos + JIT[i % len(JIT)] for i in range(len(ys))] if g < 3 else [pos] * len(ys)
            fig.add_trace(go.Scatter(x=xs, y=ys, mode="markers", xaxis=xa, yaxis=ya,
                                     marker=dict(size=2.4, color=DOTS[g], line=dict(width=0)), **skip()))
            b = BOX[c][g]
            fig.add_trace(go.Box(x=[pos], lowerfence=[b[0]], q1=[b[1]], median=[b[2]], q3=[b[3]], upperfence=[b[4]],
                                 width=.2, whiskerwidth=0, fillcolor=FILLS[g], boxpoints=False, xaxis=xa, yaxis=ya,
                                 line=dict(color="#3a3a3a", width=.7), **skip()))
    fig.add_trace(go.Scatter(x=[m[0] + 1 + OFFS[m[1]] for m in MARKS], y=[m[2] for m in MARKS], mode="markers",
                             xaxis=xa, yaxis=ya, marker=dict(size=2.2, color="#111", line=dict(width=0)), **skip()))

box_panel(48, 335, 53, 154, [-.039, .875], [0,.2,.4,.6,.8], ["0.0","0.2","0.4","0.6","0.8"], "READ", A_BOX, A_PTS, A_MARKS)
box_panel(391, 678, 53, 154, [-.073, 1.65], [0,.5,1,1.5], ["0.0","0.5","1.0","1.5"], "COAD", B_BOX, B_PTS, B_MARKS)
note(31, 103, "Infiltration Level", size=6.5, color="#222", angle=-90)
note(373, 103, "Infiltration Level", size=6.5, color="#222", angle=-90)

def legend(ox, o2, dy):
    note(ox, 7, "Copy number", size=8.3, color="#333", anchor="left")
    rows = [(ox + 1, 18 + dy, 0), (ox + 1, 29 + dy, 1), (o2, 20 + dy, 2), (o2, 30 + dy, 3)]
    for kx, ky, g in rows:
        rect(kx, ky - 3.5, kx + 9, ky + 3.5, FILLS[g], "#555", .7)
        shapes.append(dict(type="line", xref="paper", yref="paper", x0=fx(kx), x1=fx(kx + 9), y0=fy(ky), y1=fy(ky),
                           line=dict(color="#333", width=.7)))
        dot = DOTS[g] if g != 1 else "#555"
        shapes.append(dict(type="rect", xref="paper", yref="paper", x0=fx(kx + 3.7), x1=fx(kx + 5.3), y0=fy(ky - .8), y1=fy(ky + .8),
                           fillcolor=dot, line=dict(width=0)))
        note(kx + 12.5, ky + .5, GROUPS[g], size=8.3, color="#333", anchor="left")

legend(48, 141.5, 0)
legend(391, 485.5, .5)

# ---------- C / D ----------
def scatter_row(x_edges, y0, y1, yr, yt, strip_x, X, Y, X2, Y2, LX, LY, TK, TT, COR, P, label):
    for i, (a, b) in enumerate(x_edges):
        xr = XRANGES[label][i]
        xa, ya = axes(a, b, y0, y1, xr, yr,
                      dict(tickvals=TK[i], ticktext=TT[i], ticklabelstandoff=-2, ticklen=1,
                           tickfont=dict(size=5, color="#4d4d4d", family=FONT)),
                      dict(tickvals=yt, showticklabels=False, ticks="",
                           minor=dict(showgrid=True, gridcolor="#f3f3f3", gridwidth=.4, ticks="",
                                      tickvals=[(p+q)/2 for p, q in zip(yt, yt[1:])])))
        strip(a, y0 - 8.7, b, y0, C_TITLES[i], size=5.2)
        for xs, ys in ((X[i], Y), (X2[i], Y2)):
            fig.add_trace(go.Scatter(x=xs, y=ys, mode="markers", xaxis=xa, yaxis=ya,
                                     marker=dict(size=2.7, color="#222", line=dict(width=0)), **skip()))
        fig.add_trace(go.Scatter(x=LX[i], y=LY[i], mode="lines", xaxis=xa, yaxis=ya,
                                 line=dict(color="#3366ff", width=1.1, shape="spline"), **skip()))
        note(b - .5, y0 + 4.8, COR[i], size=5.8, color="#f5304a", anchor="right")
        note(b - .5, y0 + 10, P[i], size=5.8, color="#f5304a", anchor="right")
    # strip carrying the y axis
    xa, ya = axes(strip_x[0], strip_x[1], y0, y1, [0, 1], yr,
                  dict(visible=False, showgrid=False),
                  dict(tickvals=yt, ticktext=[str(t) for t in yt], showgrid=False, showline=False,
                       tickfont=dict(size=5, color="#4d4d4d", family=FONT)))
    fig.add_trace(go.Scatter(x=[.5], y=[yr[0]], mode="markers", xaxis=xa, yaxis=ya, marker=dict(opacity=0), **skip()))
    rect(strip_x[0], y0, strip_x[1], y1, "#d9d9d9", BORDER, 1)
    note(sum(strip_x) / 2, (y0 + y1) / 2, label, size=5, angle=-90)

XRANGES = {
 "READ": [[.023,1.0],[-.024,.468],[.0635,.344],[-.0137,.2445],[-.011,.279],[.073,.2247],[.278,.866]],
 "COAD": [[.06,1.04],[-.021,.436],[-.025,.63],[-.02,.443],[-.014,.395],[.012,.36],[.074,1.16]],
}
scatter_row([(50,136),(140,227),(230,317),(320.7,407.7),(410,497),(500,587.7),(590.7,677.7)], 194.3, 277.7, [5.05,9.07],
            [6,7,8,9], (40,50), C_X, C_Y, C_X2, C_Y2, C_LINE_X, C_LINE_Y, C_TICKS, C_TICKTEXT, C_COR, C_P, "READ")
scatter_row([(49,136.7),(139.3,227.3),(230,317.3),(320.3,407.7),(411,497.3),(501.3,587.3),(591.3,677.7)], 321, 403.7, [5.14,8.58],
            [6,7,8], (40,49), D_X, D_Y, D_X2, D_Y2, D_LINE_X, D_LINE_Y, D_TICKS, D_TICKTEXT, D_COR, D_P, "COAD")
note(31, 236.7, "ATP6AP1 Expression Level (log2 TPM)", size=5.6, color="#333", angle=-90)
note(30, 361.7, "ATP6AP1 Expression Level (log2 TPM)", size=5.6, color="#333", angle=-90)
note(363, 288, "Infiltration Level", size=5.8, color="#222")
note(363, 413, "Infiltration Level", size=5.8, color="#222")

# ---------- E ----------
E_SCALE = [[0,"#000080"],[.25,"#8a84c0"],[.375,"#cfcce6"],[.5,"#ffffff"],[.625,"#fdc9b8"],[.75,"#ee8a6c"],[1,"#c00000"]]
xa, ya = axes(66, 642.7, 460, 504, [-.486, 39.53], [-.48, 1.49],
              dict(tickvals=list(range(40)), ticktext=CHEMOKINES, tickangle=-45, ticks="", gridcolor="#f1f1f1", gridwidth=1,
                   tickfont=dict(size=6.6, color="#222", family=FONT)),
              dict(tickvals=[0,1], ticktext=["COAD","READ"], ticks="", gridcolor="#f1f1f1", gridwidth=1,
                   tickfont=dict(size=7.6, color="#222", family=FONT)))
for row, cors, sig in ((1, E_READ, E_READ_SIG), (0, E_COAD, E_COAD_SIG)):
    idx = [i for i, c in enumerate(cors) if c != 0]
    fig.add_trace(go.Scatter(x=idx, y=[row] * len(idx), mode="markers", xaxis=xa, yaxis=ya,
                             marker=dict(size=[max(abs(cors[i]) * 53, 2) for i in idx], color=[cors[i] for i in idx],
                                         coloraxis="coloraxis", line=dict(width=0)), **skip()))
    ks = list(sig)
    fig.add_trace(go.Scatter(x=ks, y=[row - .06] * len(ks), mode="text", text=[sig[k] for k in ks], xaxis=xa, yaxis=ya,
                             textposition="middle center", textfont=dict(size=6, color="#333", family=FONT), **skip()))
note(279, 447.7, "* p &lt; 0.05; ** p &lt; 0.01", size=7, color="#333")
note(353.5, 448, "Correlation", size=7, color="#333")

# ---------- F ----------
P_SCALE = [[0,"#cd5045"],[1,"#ffffff"]]
R_SCALE = [[0,"#0072bc"],[.25,"#7fb0dc"],[.4,"#d8e3f3"],[.5,"#ffffff"],[.6,"#fdeec8"],[.75,"#f8d878"],[1,"#f2b600"]]
xa, ya = axes(42.7, 684, 578.3, 627.7, [0, 47], [0, 2.02],
              dict(tickvals=[i + .5 for i in range(47)], ticktext=CHECKPOINTS, tickangle=-45, ticks="", showgrid=False,
                   showline=False, mirror=False, tickfont=dict(size=6.6, color="#222", family=FONT)),
              dict(tickvals=[.5, 1.52], ticktext=["COAD","READ"], ticks="", showgrid=False, showline=False, mirror=False,
                   tickfont=dict(size=7.6, color="#222", family=FONT)))
for b, t, ps, rs in ((1.04, 2.02, F_READ_P, F_READ_C), (0, .98, F_COAD_P, F_COAD_C)):
    for i in range(47):
        pc = sample_colorscale(P_SCALE, [ps[i]])[0]
        rc = sample_colorscale(R_SCALE, [(rs[i] + 1) / 2])[0]
        fig.add_trace(go.Scatter(x=[i, i + 1, i + 1, i], y=[b, b, t, b], fill="toself", fillcolor=rc, mode="lines",
                                 line=dict(width=0), xaxis=xa, yaxis=ya, **skip()))
        fig.add_trace(go.Scatter(x=[i, i, i + 1, i], y=[b, t, t, b], fill="toself", fillcolor=pc, mode="lines",
                                 line=dict(width=0), xaxis=xa, yaxis=ya, **skip()))
fig.add_trace(go.Scatter(x=[-5], y=[-5], mode="markers", xaxis=xa, yaxis=ya,
                         marker=dict(color=[0], coloraxis="coloraxis2", opacity=0), **skip()))
fig.add_trace(go.Scatter(x=[-5], y=[-5], mode="markers", xaxis=xa, yaxis=ya,
                         marker=dict(color=[0], coloraxis="coloraxis3", opacity=0), **skip()))
note(237, 566, "P value", size=7, color="#333")
note(390.3, 566, "Correlation", size=7, color="#333")

# ---------- G ----------
G_BOX = [(39.3,157.3,689,804.3,[3.26,8.81],[1.39,8.38],[2,3,4,5,6,7,8]),
         (211,330,689,804.3,[3.26,8.84],[-.16,6.02],[0,1,2,3,4,5,6]),
         (386,504.3,686,801,[3.26,8.81],[2.93,8.0],[3,4,5,6,7,8]),
         (559.3,677.3,686,801,[3.24,8.8],[.59,7.0],[1,2,3,4,5,6,7])]
CYAN = "#4fc0d8"
for i, (a, b, c, d, xr, yr, yt) in enumerate(G_BOX):
    xa, ya = axes(a, b, c, d, xr, yr,
                  dict(tickvals=[4,5,6,7,8], linecolor="#333", tickcolor="#333", gridwidth=1, ticklen=2.5,
                       tickfont=dict(size=6.4, color="#333", family=FONT),
                       minor=dict(showgrid=True, gridcolor="#f2f2f2", gridwidth=.5, ticks="", tickvals=[3.5,4.5,5.5,6.5,7.5,8.5])),
                  dict(tickvals=yt, linecolor="#333", tickcolor="#333", gridwidth=1, ticklen=2.5,
                       tickfont=dict(size=6.4, color="#333", family=FONT),
                       minor=dict(showgrid=True, gridcolor="#f2f2f2", gridwidth=.5, ticks="",
                                  tickvals=[(p+q)/2 for p, q in zip(yt, yt[1:])])))
    fig.add_trace(go.Scatter(x=CI_X + CI_X[::-1], y=CI_HI[i] + CI_LO[i][::-1], fill="toself", mode="lines",
                             fillcolor="rgba(79,192,216,.28)", line=dict(width=0), xaxis=xa, yaxis=ya, **skip()))
    for xs, ys in ((GX, G_Y[i]), (GX2, G_Y2[i])):
        fig.add_trace(go.Scatter(x=xs, y=ys, mode="markers", xaxis=xa, yaxis=ya,
                                 marker=dict(size=4.6, color=CYAN, opacity=.72, line=dict(width=0)), **skip()))
    fig.add_trace(go.Scatter(x=G_LINE_X, y=G_LINE_Y[i], mode="lines", xaxis=xa, yaxis=ya,
                             line=dict(color=CYAN, width=1), **skip()))
    note(b - 2, d - 27, "Spearman", size=6.4, color=CYAN, anchor="right")
    note(b - 2, d - 15.5, G_STATS[i][0], size=6.4, color=CYAN, anchor="right")
    note(b - 2, d - 5, G_STATS[i][1], size=6.4, color=CYAN, anchor="right")
    mid = (a + b) / 2
    note(mid, d + 17.5, "The expression of ATP6AP1", size=7.3, color="#333")
    note(mid, d + 25.5, "Log<sub>2</sub> (TPM+1)", size=7.3, color="#333")
    note(a - 25.5, (c + d) / 2, f"The expression of {G_GENES[i]}", size=7.3, color="#333", angle=-90)
    note(a - 17, (c + d) / 2, "Log<sub>2</sub> (TPM+1)", size=7.3, color="#333", angle=-90)

# ---------- letters ----------
for t, x, y in (("A",7,7),("B",352,7),("C",10,175),("D",10,299),("E",9,436),("F",5,561),("G",6,677)):
    note(x, y, t, size=14, color="#222")

def cbar(x0, x1, ybar, h, vals, txt):
    return dict(orientation="h", x=fx(x0), xanchor="left", y=fy(ybar), yanchor="top", len=(x1 - x0) / W, lenmode="fraction",
                thickness=h, thicknessmode="pixels", xpad=0, ypad=0, outlinewidth=0, tickvals=vals, ticktext=txt,
                ticks="inside", tickcolor="white", ticklen=2, tickwidth=.6,
                tickfont=dict(size=7.2, color="#333", family=FONT), bgcolor="rgba(0,0,0,0)")

fig.update_layout(
    width=W, height=H, margin=dict(l=0, r=0, t=0, b=0), paper_bgcolor="white", plot_bgcolor="white",
    showlegend=False, hovermode=False, font=dict(family=FONT), boxmode="overlay",
    shapes=shapes, annotations=notes,
    coloraxis=dict(cmin=-1, cmax=1, colorscale=E_SCALE,
                   colorbar=cbar(389, 480, 438, 10, [-1,-.5,0,.5,1], ["-1.0","-0.5","0.0","0.5","1.0"])),
    coloraxis2=dict(cmin=0, cmax=1, colorscale=P_SCALE,
                    colorbar=cbar(262, 352, 559, 6.5, [0,.25,.5,.75,1], ["0.00","0.25","0.50","0.75","1.00"])),
    coloraxis3=dict(cmin=-1, cmax=1, colorscale=R_SCALE,
                    colorbar=cbar(421.7, 511.7, 559, 6.5, [-1,-.5,0,.5,1], ["-1.0","-0.5","0.0","0.5","1.0"])),
    **layout_axes,
)
fig.write_html("out.html", config=dict(displayModeBar=False),
               post_script="document.body.style.margin='0';document.body.style.overflow='hidden';")
